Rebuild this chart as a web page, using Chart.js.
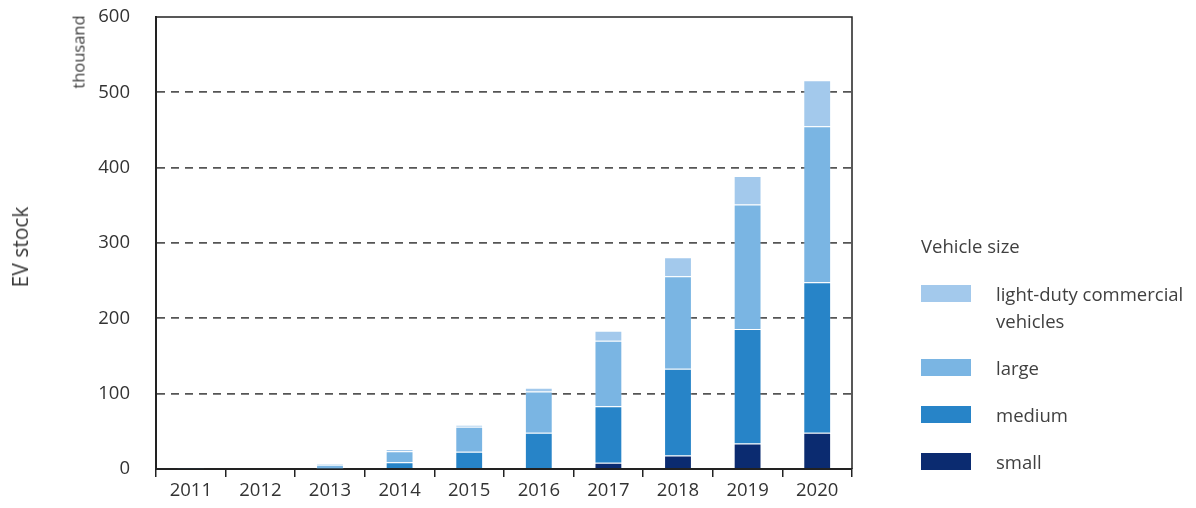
<!DOCTYPE html>
<html>
<head>
<meta charset="utf-8">
<script src="https://cdn.jsdelivr.net/npm/chart.js@4"></script>
<style>
    body { margin: 0; background: #fff; font-family: "Open Sans", "Noto Sans", sans-serif; color: #3a3a3a; }
    #wrap { position: relative; width: 1196px; height: 508px; }
    #evTitle { position: absolute; left: 20px; top: 247px; transform: translate(-50%, -50%) rotate(-90deg); font-size: 21px; white-space: nowrap; }
    #unit { position: absolute; left: 78px; top: 52px; transform: translate(-50%, -50%) rotate(-90deg); font-size: 16.5px; white-space: nowrap; }
    #legend { position: absolute; left: 921px; top: 0; font-size: 18.5px; color: #404040; }
    #legend div { position: absolute; white-space: nowrap; }
    #legend .sw { width: 50px; height: 17px; }
</style>
</head>
<body>
<div id="wrap">
    <canvas id="evChart"></canvas>
    <div id="evTitle">EV stock</div>
    <div id="unit">thousand</div>
    <div id="legend"></div>
</div>
<script>
let years = ["2011", "2012", "2013", "2014", "2015", "2016", "2017", "2018", "2019", "2020"];

// thousand vehicles
let small = [0, 0, 0, 0, 0, 0, 8.4, 18, 34, 48];
let medium = [1, 1.5, 0.5, 9, 23, 48, 75, 115, 152, 200];
let large = [0.3, 0.5, 5.2, 14.6, 33, 55, 87, 123, 165, 207];
let lightCommercial = [0, 0, 1, 3, 2.8, 5, 13, 25, 38, 61];

let seriesNames = ["small", "medium", "large", "light-duty commercial vehicles"];
let seriesColors = ["#0b2b70", "#2784c8", "#7ab5e3", "#a3c9ec"];
let yTicks = [0, 100, 200, 300, 400, 500, 600];

function buildLegend() {
    let legend = document.getElementById("legend");
    let html = "<div style=\"top:233px;left:0\">Vehicle size</div>";
    let order = [3, 2, 1, 0];
    let swTops = [285, 359, 406, 453];
    order.forEach((idx, i) => {
        let swTop = swTops[i];
        let label = idx == 3 ? "light-duty commercial<br>vehicles" : seriesNames[idx];
        html += "<div class=\"sw\" style=\"top:" + swTop + "px;left:0;background:" + seriesColors[idx] + "\"></div>";
        html += "<div style=\"top:" + (swTop - 5) + "px;left:75px;line-height:27px\">" + label + "</div>";
    });
    legend.innerHTML = html;
}

// frame along top and right of the plot area
const framePlugin = {
    id: "frame",
    afterDraw(chart) {
        let a = chart.chartArea, ctx = chart.ctx;
        ctx.save();
        ctx.strokeStyle = "#222";
        ctx.lineWidth = 1.5;
        ctx.beginPath();
        ctx.moveTo(a.left, a.top);
        ctx.lineTo(a.right, a.top);
        ctx.lineTo(a.right, a.bottom);
        ctx.stroke();
        ctx.restore();
    }
};

let dataArrays = [small, medium, large, lightCommercial];

new Chart(document.getElementById("evChart"), {
    type: "bar",
    data: {
        labels: years,
        datasets: dataArrays.map((d, i) => ({
            label: seriesNames[i],
            data: d,
            backgroundColor: seriesColors[i],
            borderColor: "rgba(255,255,255,0.2)",
            borderWidth: 1,
            categoryPercentage: 1,
            barPercentage: 0.4
        }))
    },
    plugins: [framePlugin],
    options: {
        responsive: true,
        maintainAspectRatio: false,
        animation: false,
        layout: { padding: { left: 0, right: 344, top: 17, bottom: 0 } },
        plugins: { legend: { display: false }, tooltip: { enabled: false } },
        scales: {
            x: {
                stacked: true,
                afterFit: s => { s.height = 39; },
                border: { color: "#222", width: 2 },
                grid: { drawOnChartArea: false, drawTicks: true, tickLength: 8, color: "#222", lineWidth: 1.5 },
                ticks: { color: "#333", font: { family: "Open Sans", size: 18.5 }, padding: 3 }
            },
            y: {
                stacked: true,
                min: 0,
                max: 600,
                afterFit: s => { s.width = 156; },
                afterBuildTicks: s => { s.ticks = yTicks.map(v => ({ value: v })); },
                border: { color: "#222", width: 2, display: true, dash: [8, 6] },
                grid: {
                    drawTicks: true,
                    tickLength: 22,
                    tickColor: "rgba(0,0,0,0)",
                    color: ctx => (ctx.tick.value == 0 || ctx.tick.value == 600) ? "rgba(0,0,0,0)" : "#555",
                    lineWidth: 1.8
                },
                ticks: { color: "#333", font: { family: "Open Sans", size: 18.5 }, padding: 4 }
            }
        }
    }
});

buildLegend();
</script>
</body>
</html>
